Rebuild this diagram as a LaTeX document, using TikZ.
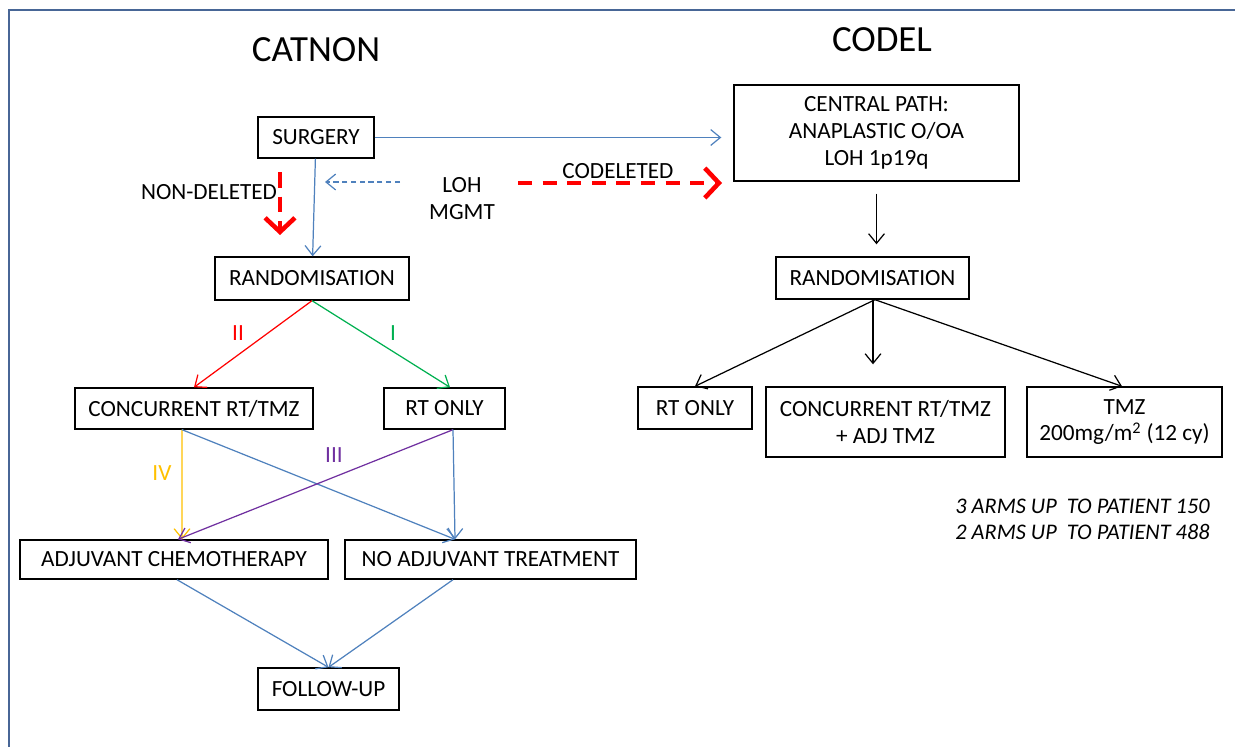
\documentclass[tikz,border=0pt]{standalone}
\usepackage{fontspec}
\setmainfont{Carlito}
\usetikzlibrary{arrows.meta}
\definecolor{armblue}{RGB}{79,129,189}
\definecolor{framegray}{RGB}{72,102,150}
\definecolor{armred}{RGB}{255,0,0}
\definecolor{armgreen}{RGB}{0,176,80}
\definecolor{armpurple}{RGB}{112,48,160}
\definecolor{armyellow}{RGB}{255,192,0}
\begin{document}
\begin{tikzpicture}[x=0.02cm,y=-0.02cm,
  box/.style={draw,line width=0.8pt,inner sep=0pt,align=center,font=\fontsize{13.2}{15.3}\selectfont},
  txt/.style={inner sep=0pt,align=center,font=\fontsize{13.2}{15.3}\selectfont},
  title/.style={inner sep=0pt,font=\fontsize{21}{25}\selectfont},
  arm/.style={line width=0.7pt,-{Straight Barb[length=5.5pt,width=9pt]}},
  thickred/.style={armred,line width=2.6pt,dash pattern=on 9pt off 5pt,-{Straight Barb[length=8pt,width=17pt]}}]
\useasboundingbox (0,0) rectangle (1235,747);
\draw[framegray,line width=1.3pt] (9,747) -- (9,10) -- (1235,10); % frame
% CATNON
\node[title] (catnon) at (316,50) {CATNON};
\node[box,minimum width=2.32cm,minimum height=0.82cm] (surgery) at (316,137.5) {SURGERY};
\node[box,minimum width=3.88cm,minimum height=0.86cm] (randL) at (312,278.5) {RANDOMISATION};
\node[box,minimum width=4.76cm,minimum height=0.82cm] (concL) at (194,408.5) {CONCURRENT RT/TMZ};
\node[box,minimum width=2.42cm,minimum height=0.82cm] (rtL) at (444.5,408.5) {RT ONLY};
\node[box,minimum width=6.16cm,minimum height=0.78cm] (adj) at (174,559.5) {ADJUVANT CHEMOTHERAPY};
\node[box,minimum width=5.82cm,minimum height=0.78cm] (noadj) at (490.5,559.5) {NO ADJUVANT TREATMENT};
\node[box,minimum width=2.82cm,minimum height=0.84cm] (follow) at (328.5,689) {FOLLOW-UP};
\node[txt] (nondel) at (209,192) {NON-DELETED};
\node[txt] (loh) at (462,198.5) {LOH\\MGMT};
\node[txt,text=armred] (two) at (238,333) {II};
\node[txt,text=armgreen] (one) at (393,333) {I};
\node[txt,text=armyellow] (four) at (162,473) {IV};
\node[txt,text=armpurple] (three) at (334,455) {III};
\coordinate (lohstart) at (400,182);
\coordinate (lohtip) at (325,182);
\coordinate (nondelstart) at (280,172);
\coordinate (nondeltip) at (280,235);
\draw[arm,armblue] (surgery) -- (randL);
\draw[armblue,line width=0.7pt,dash pattern=on 3pt off 2pt,-{Straight Barb[length=5.5pt,width=9pt]}] (lohstart) -- (lohtip);
\draw[thickred] (nondelstart) -- (nondeltip);
\draw[arm,armred] (randL.south) -- (concL.north);
\draw[arm,armgreen] (randL.south) -- ([xshift=0.11cm]rtL.north);
\draw[arm,armyellow] ([xshift=-0.24cm]concL.south) -- ([xshift=0.16cm]adj.north);
\draw[arm,armblue] ([xshift=-0.24cm]concL.south) -- ([xshift=-0.71cm]noadj.north);
\draw[arm,armpurple] ([xshift=0.17cm]rtL.south) -- ([xshift=0.08cm]adj.north);
\draw[arm,armblue] ([xshift=0.17cm]rtL.south) -- ([xshift=-0.71cm]noadj.north);
\draw[arm,armblue] ([xshift=0.06cm]adj.south) -- (follow.north);
\draw[arm,armblue] ([xshift=-0.75cm]noadj.south) -- (follow.north);
% CODEL
\node[title] (codel) at (882,40) {CODEL};
\node[box,minimum width=5.70cm,minimum height=1.92cm] (central) at (876.5,133) {CENTRAL PATH:\\ANAPLASTIC O/OA\\LOH 1p19q};
\node[box,minimum width=3.86cm,minimum height=0.84cm] (randR) at (872.5,278) {RANDOMISATION};
\node[box,minimum width=2.28cm,minimum height=0.84cm] (rtR) at (695,408) {RT ONLY};
\node[box,minimum width=4.78cm,minimum height=1.40cm] (concR) at (885.5,422) {CONCURRENT RT/TMZ\\+ ADJ TMZ};
\node[box,minimum width=3.90cm,minimum height=1.40cm] (tmz) at (1124.5,422) {TMZ\\200mg/m\textsuperscript{2} (12 cy)};
\node[txt] (codeleted) at (618,171) {CODELETED};
\node[txt,align=right,anchor=east,font=\fontsize{12.7}{14.8}\selectfont\itshape] (arms) at (1210,519) {3 ARMS UP\ \ TO PATIENT 150\\2 ARMS UP\ \ TO PATIENT 488};
\coordinate (codelstart) at (518,183);
\coordinate (codeltip) at (722,183);
\draw[arm,armblue,shorten >=0.24cm] (surgery.east) -- (surgery.east -| central.west);
\draw[thickred,dash pattern=on 8pt off 6pt] (codelstart) -- (codeltip);
\draw[arm,black,shorten <=0.24cm,shorten >=0.24cm] (central.south) -- (central.south |- randR.north);
\draw[arm,black] ([xshift=0.05cm]randR.south) -- (rtR.north);
\draw[arm,black,shorten >=0.44cm] ([xshift=0.01cm]randR.south) -- ([xshift=0.01cm]randR.south |- concR.north);
\draw[arm,black] ([xshift=0.05cm]randR.south) -- ([xshift=-0.05cm]tmz.north);
\end{tikzpicture}
\end{document}
